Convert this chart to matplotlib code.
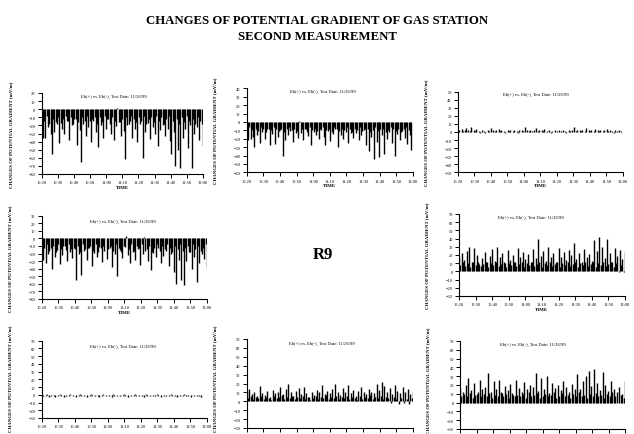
import numpy as np
import matplotlib
matplotlib.use("Agg")
import matplotlib.pyplot as plt

plt.rcParams['font.family'] = ['Liberation Serif', 'DejaVu Serif']

# --- TEXT ---
TITLE_LINES = ["CHANGES OF POTENTIAL GRADIENT OF GAS STATION", "SECOND MEASUREMENT"]
PANEL_TITLE = "Eb(+) vs. Eb(-), Test Date: 11/26/99"
Y_LABEL = "CHANGES OF POTENTIAL GRADIENT (mV/m)"
X_LABEL = "TIME"
SITE_LABEL = "R9"
TIME_TICKS = ["10:20", "10:30", "10:40", "10:50", "11:00", "11:10",
              "11:20", "11:30", "11:40", "11:50", "12:00"]

# --- DATA: potential gradient changes, sampled across 10:20 - 12:00 ---
GAS_A = [-10, -35, -14, -36, -8, -22, -18, -30, -55, -12, -28, -16, -18, -10, -42, -17, -25, -12, -30, -8,
         -15, -14, -38, -10, -20, -18, -12, -12, -44, -16, -26, -65, -10, -18, -15, -33, -8, -22, -14, -40,
         -12, -15, -10, -28, -18, -47, -10, -19, -16, -35, -8, -24, -12, -12, -18, -30, -10, -38, -14, -21,
         2, -16, -16, -33, -12, -27, -62, -10, -20, -18, -14, -8, -36, -12, -25, -16, -41, -10, -18, -14,
         -60, -8, -28, -18, -17, -12, -37, -10, -22, -16, -30, -8, -45, -14, -26, -10, -19, -18, -33, -12,
         -24, -8, -39, -55, -14, -28, -70, -12, -50, -18, -72, -10, -35, -16, -25, -8, -48, -14, -20, -73,
         -12, -30, -18, -22, -10, -38, -14, -18, -45]
GAS_B = [-9, -22, -6, -20, -10, -18, -30, -8, -15, -11, -25, -6, -12, -9, -20, -12, -9, -8, -28, -10,
         -14, -6, -26, -9, -18, -11, -10, -8, -40, -12, -22, -9, -16, -6, -11, -10, -24, -8, -13, -11,
         -19, 1, -13, -9, -21, -8, -9, -12, -17, -6, -27, -10, -12, -8, -15, -11, -20, -9, -10, -6,
         -18, -28, -10, -11, -8, -23, -12, -14, -6, -9, -9, -30, -11, -16, -8, -20, -10, -12, -6, -25,
         -9, -13, -12, -19, -8, -13, -10, -22, -6, -15, -11, -10, -9, -27, -8, -35, -12, -18, -10, -44,
         -6, -24, -11, -42, -9, -16, -8, -38, -12, -20, -10, -12, -6, -25, -9, -40, -11, -14, -8, -22,
         -12, -11, -9, -19, -6, -26, -10, -15, -33]
GAS_C = [1, 3, 0, 4, 1, 2, 5, 0, 3, 1, 6, 0, 2, 1, 4, 0, 1, -1, 2, 0,
         1, -1, 0, 3, 1, 5, 0, 2, 1, 3, 0, 4, 1, 2, 0, 1, -1, 0, 2, 1,
         3, 0, 1, 2, 0, 1, -1, 2, 0, 3, 1, 6, 0, 2, 1, 3, 0, 1, 2, 0,
         5, 1, 3, 0, 2, 1, 4, 0, 1, 0, 2, -1, 1, 0, 2, 0, 1, 3, 0, 1,
         2, 0, 1, -1, 0, 2, 1, 3, 0, 6, 1, 2, 0, 3, 1, 2, 0, 1, 5, 0,
         2, 1, 3, 0, 1, 4, 0, 2, 1, 3, 0, 1, 2, 0, 4, 1, 2, 0, 1, -1,
         2, 0, 1, 3, 0, 1]
GAS_D = [2, -28, -12, -32, -8, -20, -16, -12, -40, -10, -25, -18, -15, -8, -34, -14, -22, -10, -10, -15,
         -30, -8, -18, -14, -26, -12, -14, -55, -10, -21, -18, -48, -8, -16, -14, -29, -12, -12, -10, -36,
         -16, -19, -8, -24, -18, -11, -12, -31, -10, -17, 1, -27, -14, -13, -10, -38, -16, -20, -8, -50,
         -12, -15, -18, -26, -10, -11, 3, -22, -14, -33, -8, -18, -16, -28, -10, -14, -12, -35, -8, -21,
         2, -17, -14, -30, -10, -42, -18, -19, -12, -25, -8, -12, -16, -32, -10, -23, -14, -16, -8, -37,
         -12, -20, -18, -45, -10, -60, -14, -28, -8, -55, -16, -62, -12, -30, -10, -18, -18, -40, -8, -25,
         -14, -58, -10, -33, -16, -20, -12, -27, -8, -38]
GAS_E = [18, 8, 22, 11, 14, 7, 25, 10, 30, 5, 12, 12, 28, 8, 20, 11, 9, 7, 16, 9,
         24, 12, 11, 5, 19, 10, 27, 8, 13, 11, 30, 7, 17, 9, 22, 12, 10, 5, 26, 10,
         14, 8, 20, 12, 12, 7, 29, 9, 18, 11, 24, 5, 15, 10, 21, 8, 11, 12, 27, 7,
         16, 9, 40, 11, 19, 5, 25, 10, 13, 8, 30, 12, 17, 7, 22, 9, 12, 11, 28, 5,
         18, 10, 24, 8, 14, 12, 26, 7, 20, 9, 35, 11, 15, 5, 23, 10, 11, 8, 27, 12,
         18, 7, 21, 9, 13, 11, 38, 5, 25, 10, 42, 8, 30, 12, 16, 7, 40, 9, 22, 11,
         12, 5, 28, 10, 19, -1, 26, 8, 15, -1, 24]
GAS_F = [0, -2, 0, -1, 1, -3, 0, -2, 0, -1, -3, 0, -1, 1, -2, 0, -3, 0, -1, 0,
         -2, 1, 0, -2, 0, -3, 0, -1, 1, -2, 0, -1, 0, -3, 0, -2, 1, -1, 0, -2,
         0, -1, -3, 0, -1, 1, 0, -2, 0, -1, 0, -3, 1, -1, 0, -2, 0, -1, 0, -2,
         1, -1, 0, -3, 0, -2, 0, -1, 1, -2, 0, -1, 0, -2, 0, -3, 1, -1, 0, -2,
         0, -1, 0, -2, 1, -1, 0, -3, 0, -2, 0, -1, 0, -2, 1, -1, 0, -2, 0, -3,
         0, -1, 0, -2, 1, -1, 0, -2, 0, -3, 0, -1, 0, -2, 0, -1, -3, 0]
GAS_G = [12, 4, 14, 6, 8, 3, 10, 5, 6, 4, 17, 6, 9, 3, 7, 5, 12, 4, 5, 2,
         13, 6, 9, 4, 11, 5, 16, 7, 8, 3, 14, 5, 20, 4, 10, 6, 6, 3, 12, 5,
         15, 4, 8, 6, 16, 3, 9, 5, 5, 2, 11, 4, 7, 6, 13, 3, 10, 5, 18, 4,
         8, 7, 12, 3, 9, 5, 14, 4, 19, 6, 10, 3, 7, 5, 15, 4, 11, 6, 18, 3,
         9, 5, 13, 4, 6, 2, 12, 6, 16, 3, 10, 5, 8, 4, 14, 7, 11, 3, 9, 5,
         19, 4, 13, 6, 22, 3, 17, 5, 10, 4, 15, -2, 8, 5, 18, 3, 12, -3, 9, 4,
         16, -2, 11, 3, 14, -3, 8, 4, 10]
GAS_H = [17, 8, 12, 10, 20, 7, 28, 11, 14, 5, 22, 9, 10, 12, 26, 7, 15, 10, 18, 8,
         34, 11, 12, 5, 25, 9, 16, 7, 26, 12, 11, 8, 19, 10, 14, 5, 21, 11, 9, 7,
         26, 9, 17, 8, 12, 10, 23, 5, 15, 12, 20, 7, 18, 9, 34, 11, 13, 5, 28, 8,
         16, 10, 30, 7, 11, 9, 22, 12, 17, 5, 20, 8, 14, 11, 25, 7, 18, 9, 12, 5,
         21, 10, 16, 8, 33, 12, 15, 7, 24, 9, 30, 5, 36, 10, 19, 8, 38, 11, 22, 7,
         14, 9, 35, 5, 20, 10, 13, 8, 25, 12, 16, 7, 12, -1, 18, 9, 10, 5, 24]

# minutes after 10:20 at which each record stops
END_MIN = {"A": 100, "B": 99, "C": 99, "D": 100, "E": 100, "F": 97, "G": 100, "H": 100}
Y_RANGE = {"A": (-80, 20), "B": (-60, 40), "C": (-50, 50), "D": (-80, 30),
           "E": (-30, 70), "F": (-30, 70), "G": (-30, 70), "H": (-30, 70)}

# --- LAYOUT (figure pixels: left, right, top, bottom), panel title spot,
#     how much of the time axis fits above the page edge, y-label centre ---
W, H = 634, 435
LAYOUT = {
    "A": ((41.7, 203, 94, 175), (0.45, 0.96), "full", 0.5),
    "B": ((246.7, 413, 89.3, 173.3), (0.46, 0.97), "full", 0.5),
    "C": ((458, 623, 92.7, 173.3), (0.47, 0.97), "full", 0.5),
    "D": ((41.7, 207, 216.7, 300), (0.49, 0.94), "full", 0.5),
    "E": ((459, 625, 215, 297), (0.43, 0.97), "full", 0.5),
    "F": ((41.7, 207, 341.7, 419), (0.49, 0.93), "ticks", 0.52),
    "G": ((246.7, 413, 340, 429), (0.45, 0.96), "none", 0.56),
    "H": ((460, 625, 342, 430), (0.44, 0.97), "none", 0.56),
}
SERIES = {"A": GAS_A, "B": GAS_B, "C": GAS_C, "D": GAS_D,
          "E": GAS_E, "F": GAS_F, "G": GAS_G, "H": GAS_H}


def draw_panel(fig, key):
    (x0, x1, y0, y1), (tx, ty), xlabels, ylab_y = LAYOUT[key]
    ax = fig.add_axes([x0 / W, (H - y1) / H, (x1 - x0) / W, (y1 - y0) / H])
    vals = np.asarray(SERIES[key], dtype=float)
    t = np.linspace(0, END_MIN[key], len(vals))
    # each reading drawn as a spike from the zero line
    ax.vlines(t, 0, vals, color="black", lw=1.0)

    lo, hi = Y_RANGE[key]
    ax.set_xlim(0, 100)
    ax.set_ylim(lo, hi)
    ax.set_xticks(np.arange(0, 101, 10))
    ax.set_xticklabels(TIME_TICKS)
    ax.set_yticks(np.arange(lo, hi + 1, 10))
    ax.tick_params(labelsize=3.2, length=3, width=0.7, pad=1.5)
    for s in ("top", "right"):
        ax.spines[s].set_visible(False)
    for s in ("left", "bottom"):
        ax.spines[s].set_linewidth(0.8)

    if xlabels == "none":
        ax.tick_params(axis="x", labelbottom=False)
    if xlabels == "full":
        ax.set_xlabel(X_LABEL, fontsize=3.6, fontweight="bold", labelpad=0.5)
    ax.set_ylabel(Y_LABEL, fontsize=3.5, fontweight="bold")
    ax.yaxis.set_label_coords(-0.18, ylab_y)
    ax.text(tx, ty, PANEL_TITLE, transform=ax.transAxes, fontsize=3.3,
            ha="center", va="center")
    return ax


fig = plt.figure(figsize=(W / 100, H / 100), dpi=100)
fig.text(0.5, 1 - 20.7 / H, TITLE_LINES[0], ha="center", va="center",
         fontsize=9.2, fontweight="bold")
fig.text(0.5, 1 - 37.5 / H, TITLE_LINES[1], ha="center", va="center",
         fontsize=9.2, fontweight="bold")

for key in LAYOUT:
    draw_panel(fig, key)

fig.text(323 / W, 1 - 255 / H, SITE_LABEL, ha="center", va="center",
         fontsize=12, fontweight="bold")

fig.savefig("out.png", dpi=100)
